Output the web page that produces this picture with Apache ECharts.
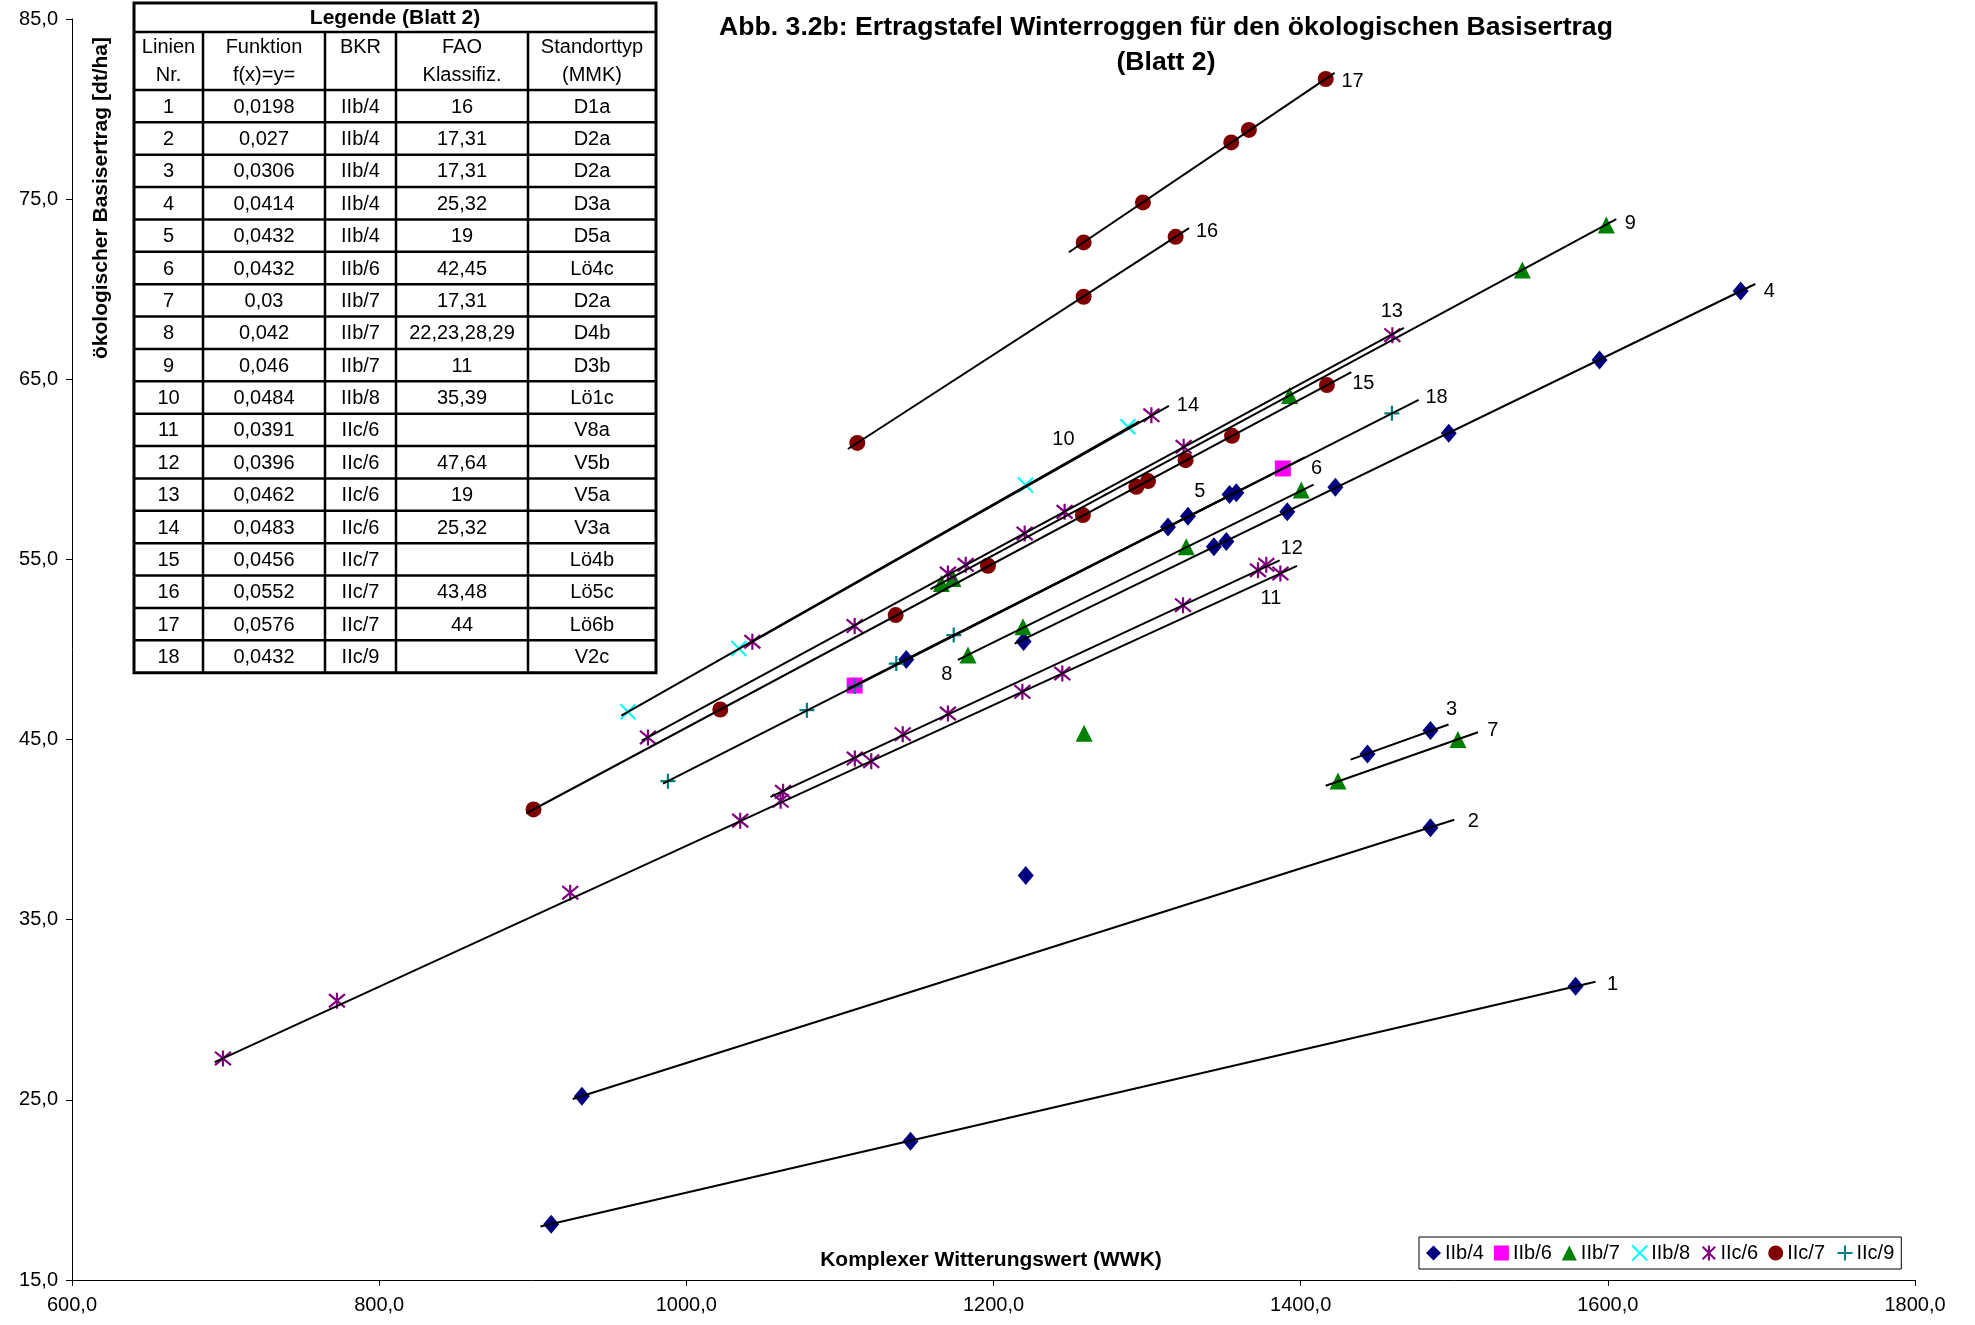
<!DOCTYPE html>
<html><head><meta charset="utf-8">
<script src="https://cdn.jsdelivr.net/npm/echarts@6/dist/echarts.min.js"></script>
<style>html,body{margin:0;padding:0;background:#fff}#c{width:1975px;height:1325px}</style>
</head><body><div id="c"></div>
<script>
// ---------- marker data (x = WWK, y = Basisertrag) ----------
const ptsIIb4 = [[912,18.1],[1146,22.7],[1579,31.3],[932,25.2],[1484.5,40.1],[1443.5,44.2],[1484.5,45.5],[1221,37.45],
  [1219.6,50.45],[1343.5,55.7],[1351.6,56.0],[1391.3,57.64],[1422.6,59.0],[1496.4,62.0],[1594.6,66.07],[1686.5,69.9],
  [1143.2,49.45],[1313.6,56.8],[1326.6,57.4],[1353.7,58.6],[1358.1,58.7]];
const ptsIIb6 = [[1109.6,48.0],[1388.4,60.05]];
const ptsIIb7 = [[1424.3,42.7],[1502.4,45.0],[1259,45.35],[1183.4,49.7],[1219.2,51.26],[1325.5,55.7],[1400.4,58.85],
  [1166,53.67],[1173.6,53.94],[1392.8,64.1],[1544.3,71.06],[1599,73.56]];
const ptsIIb8 = [[962,46.54],[1034.2,50.06],[1220.9,59.13],[1287.5,62.36]];
const ptsIIc6 = [[698.3,27.3],[772.5,30.5],[924.4,36.5],[1035.1,40.5],[1061.4,41.6],[1120.4,43.8],[1218.8,47.65],[1244.8,48.67],[1386.8,54.22],
  [1063,42.1],[1109.7,43.95],[1140.9,45.3],[1170.3,46.45],[1323.4,52.46],[1372.2,54.4],[1377.6,54.7],
  [975,45.12],[1109.6,51.3],[1170.3,54.22],[1181.9,54.7],[1220.3,56.44],[1246.3,57.64],[1323.8,61.25],[1459.7,67.45],
  [1043,50.43],[1302.8,63.0]];
const ptsIIc7 = [[1258.7,72.6],[1297.3,74.82],[1354.8,78.15],[1366.3,78.84],[1416.3,81.67],
  [1258.7,69.58],[1318.6,72.91],[1111.3,61.47],
  [900.5,41.12],[1022.1,46.67],[1136.3,51.91],[1196.4,54.65],[1258.2,57.46],[1293.0,59.03],[1300.6,59.35],[1325.1,60.51],[1355.3,61.86],[1417.1,64.68]];
const ptsIIc9 = [[988,42.69],[1078.5,46.63],[1109.6,47.95],[1136.7,49.22],[1174.1,50.8],[1459.4,63.11]];

// ---------- trend lines (Linien Nr. 1..18) ----------
const lineNos    = [1,2,3,4,5,6,7,8,9,10,11,12,13,14,15,16,17,18];
const lineStartX = [905,926,1432.5,1213.8,1135,1105.2,1416.3,1176.8,1159,957.7,692.9,1054.8,971,1039.1,895.8,1105.2,1249.1,984.8];
const lineStartY = [17.97,25.05,43.89,50.33,49.1,47.81,42.44,49.42,53.35,46.33,27.09,41.82,44.94,50.24,40.91,61.13,72.05,42.55];
const lineEndX   = [1592,1500,1496.3,1696,1362.9,1402.6,1515.4,1408.4,1605.5,1295,1397.6,1386.3,1467.2,1314.2,1433,1327.3,1422.1,1476.8];
const lineEndY   = [31.56,40.55,45.84,70.29,58.94,60.66,45.41,59.15,73.89,62.66,54.64,54.95,67.86,63.53,65.4,73.39,82.01,63.86];

// ---------- table (Legende Blatt 2) ----------
const tblFunktion = ['0,0198','0,027','0,0306','0,0414','0,0432','0,0432','0,03','0,042','0,046','0,0484','0,0391','0,0396','0,0462','0,0483','0,0456','0,0552','0,0576','0,0432'];
const tblBKR = ['IIb/4','IIb/4','IIb/4','IIb/4','IIb/4','IIb/6','IIb/7','IIb/7','IIb/7','IIb/8','IIc/6','IIc/6','IIc/6','IIc/6','IIc/7','IIc/7','IIc/7','IIc/9'];
const tblFAO = ['16','17,31','17,31','25,32','19','42,45','17,31','22,23,28,29','11','35,39','','47,64','19','25,32','','43,48','44',''];
const tblStandort = ['D1a','D2a','D2a','D3a','D5a','Lö4c','D2a','D4b','D3b','Lö1c','V8a','V5b','V5a','V3a','Lö4b','Lö5c','Lö6b','V2c'];
const tblHeader1 = ['Linien','Funktion','BKR','FAO','Standorttyp'];
const tblHeader2 = ['Nr.','f(x)=y=','','Klassifiz.','(MMK)'];

// ---------- styling / layout ----------
const FONT = '"Liberation Sans", Arial, sans-serif';
const labelAtStart = {8:true};
const labelOffset = {1:[17,3],2:[19,2],3:[3,-15],4:[14,7],5:[-44,3],6:[12,11],7:[15,-2],8:[-11,15],9:[14,4],10:[-76,18],
  11:[-26,33],12:[12,-12],13:[-12,-16],14:[19,0],15:[12,11],16:[18,3],17:[18,9],18:[18,-2]};

const fmt = v => v.toFixed(1).replace('.', ',');

const markerDefs = [
  {name:'IIb/4', data:ptsIIb4, symbol:'diamond', size:[16,19], fill:'#000080'},
  {name:'IIb/6', data:ptsIIb6, symbol:'rect', size:16, fill:'#FF00FF'},
  {name:'IIb/7', data:ptsIIb7, symbol:'triangle', size:17, fill:'#008000'},
  {name:'IIb/8', data:ptsIIb8, symbol:'path://M0,0L10,10M10,0L0,10', size:15, stroke:'#00FFFF'},
  {name:'IIc/6', data:ptsIIc6, symbol:'path://M0,0L10,10M10,0L0,10M5,-1L5,11', size:16, stroke:'#800080'},
  {name:'IIc/7', data:ptsIIc7, symbol:'circle', size:16, fill:'#800000'},
  {name:'IIc/9', data:ptsIIc9, symbol:'path://M5,0L5,10M0,5L10,5', size:15, stroke:'#008080'}
];

const series = [];
markerDefs.forEach(d => {
  series.push({
    type:'scatter', name:d.name, data:d.data, symbol:d.symbol, symbolSize:d.size, z:2,
    itemStyle: d.fill ? {color:d.fill, opacity:1} : {color:'none', borderColor:d.stroke, borderWidth:2.2, opacity:1},
    emphasis:{disabled:true}, animation:false
  });
});
lineNos.forEach((no, i) => {
  const lbl = {show:true, formatter:String(no), position:'inside', offset:labelOffset[no],
    color:'#000', fontSize:20, fontFamily:FONT, align:'center', verticalAlign:'middle'};
  const p0 = {value:[lineStartX[i], lineStartY[i]]};
  const p1 = {value:[lineEndX[i], lineEndY[i]]};
  if (labelAtStart[no]) p0.label = lbl; else p1.label = lbl;
  series.push({
    type:'line', name:'Linie ' + no, data:[p0, p1], symbol:'circle', symbolSize:1, showSymbol:true,
    itemStyle:{color:'rgba(0,0,0,0)'}, lineStyle:{color:'#000', width:2}, label:{show:false},
    z:5, silent:true, animation:false
  });
});

// ---------- table graphic ----------
const colX = [134,203,325,396,528,656];
const tTop = 3, tTitleBot = 32, tHeadBot = 90, rowH = 32.37;
const tBot = tHeadBot + rowH * tblBKR.length;
const g = [];
g.push({type:'rect', shape:{x:colX[0], y:tTop, width:colX[5]-colX[0], height:tBot-tTop}, style:{fill:'#fff', stroke:'#000', lineWidth:3}, z:10});
const hline = y => g.push({type:'line', shape:{x1:colX[0], y1:y, x2:colX[5], y2:y}, style:{stroke:'#000', lineWidth:2.5}, z:11});
hline(tTitleBot); hline(tHeadBot);
for (let i = 1; i < tblBKR.length; i++) hline(tHeadBot + rowH * i);
for (let c = 1; c < 5; c++) g.push({type:'line', shape:{x1:colX[c], y1:tTitleBot, x2:colX[c], y2:tBot}, style:{stroke:'#000', lineWidth:2.5}, z:11});
const txt = (s, x, y, opts) => g.push({type:'text', x:x, y:y, z:12, style:Object.assign({text:s, fill:'#000', fontSize:20, fontFamily:FONT,
  align:'center', verticalAlign:'middle', textAlign:'center', textVerticalAlign:'middle'}, opts||{})});
const mid = c => (colX[c] + colX[c+1]) / 2;
txt('Legende (Blatt 2)', (colX[0]+colX[5])/2, (tTop+tTitleBot)/2 + 1, {fontWeight:'bold', fontSize:21});
for (let c = 0; c < 5; c++) { txt(tblHeader1[c], mid(c), 47); if (tblHeader2[c]) txt(tblHeader2[c], mid(c), 75); }
tblBKR.forEach((b, i) => {
  const y = tHeadBot + rowH * (i + 0.5) + 1;
  txt(String(lineNos[i]), mid(0), y);
  txt(tblFunktion[i], mid(1), y);
  txt(b, mid(2), y);
  if (tblFAO[i]) txt(tblFAO[i], mid(3), y);
  txt(tblStandort[i], mid(4), y);
});
// axis titles
txt('Komplexer Witterungswert (WWK)', 991, 1260, {fontWeight:'bold', fontSize:21});
g.push({type:'text', x:101, y:198, rotation:Math.PI/2, z:12, style:{text:'ökologischer Basisertrag [dt/ha]', fill:'#000', fontSize:21, fontWeight:'bold', fontFamily:FONT,
  align:'center', verticalAlign:'middle', textAlign:'center', textVerticalAlign:'middle'}});

const chart = echarts.init(document.getElementById('c'), null, {renderer:'canvas'});
chart.setOption({
  backgroundColor:'#fff',
  animation:false,
  title:{text:'Abb. 3.2b: Ertragstafel Winterroggen für den ökologischen Basisertrag\n(Blatt 2)', left:1161, top:5, textAlign:'center',
    textStyle:{fontFamily:FONT, fontSize:26.6, fontWeight:'bold', color:'#000', lineHeight:35}},
  grid:{left:72, right:60, top:19, bottom:45, containLabel:false},
  xAxis:{type:'value', min:600, max:1800, interval:200,
    axisLine:{show:true, lineStyle:{color:'#000', width:1}}, axisTick:{show:true, length:6, lineStyle:{color:'#000'}},
    axisLabel:{formatter:fmt, color:'#000', fontSize:20, fontFamily:FONT, margin:15}, splitLine:{show:false}},
  yAxis:{type:'value', min:15, max:85, interval:10,
    axisLine:{show:true, lineStyle:{color:'#000', width:1}}, axisTick:{show:true, length:6, lineStyle:{color:'#000'}},
    axisLabel:{formatter:fmt, color:'#000', fontSize:20, fontFamily:FONT, margin:14}, splitLine:{show:false}},
  legend:{data:markerDefs.map(d => d.name), left:1419, top:1237, orient:'horizontal', backgroundColor:'#fff',
    borderColor:'#000', borderWidth:1, padding:[6,7,6,7], itemGap:10, itemWidth:15, itemHeight:15,
    textStyle:{color:'#000', fontSize:20, fontFamily:FONT, padding:[0,0,0,-1]}},
  graphic:{elements:g},
  series:series
});
</script></body></html>
